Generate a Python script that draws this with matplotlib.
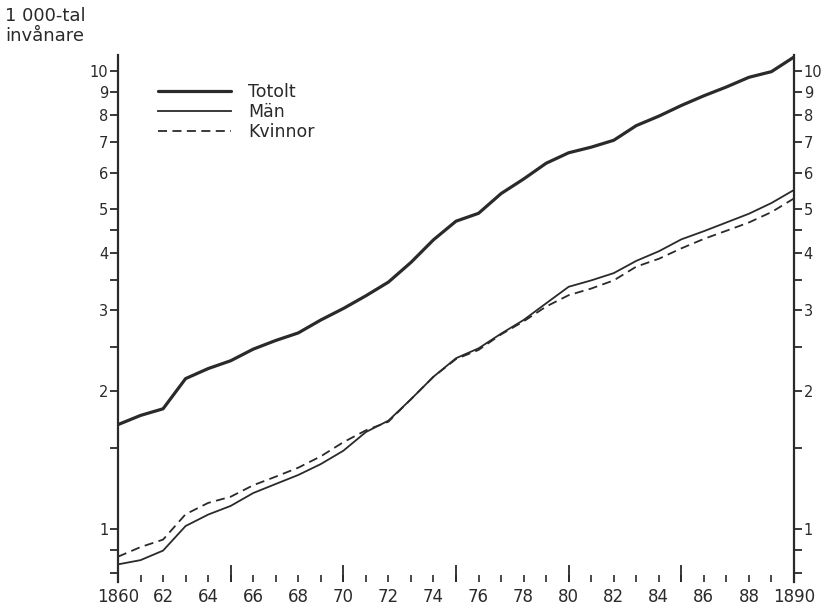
import numpy as np
import matplotlib
matplotlib.use("Agg")
import matplotlib.pyplot as plt
from matplotlib.ticker import FixedLocator, FuncFormatter, NullFormatter

# population in thousands
years = list(range(1860, 1891))
totalt = [1.69, 1.77, 1.83, 2.13, 2.24, 2.33, 2.47, 2.58, 2.68, 2.86,
          3.03, 3.23, 3.46, 3.82, 4.28, 4.70, 4.89, 5.40, 5.81, 6.29,
          6.63, 6.82, 7.06, 7.60, 7.97, 8.41, 8.83, 9.23, 9.69, 9.97, 10.73]
man = [0.837, 0.855, 0.897, 1.015, 1.075, 1.123, 1.198, 1.254, 1.312, 1.386,
       1.482, 1.628, 1.724, 1.92, 2.15, 2.36, 2.48, 2.67, 2.86, 3.11,
       3.38, 3.49, 3.62, 3.85, 4.04, 4.29, 4.47, 4.67, 4.88, 5.15, 5.50]
kvinnor = [0.870, 0.913, 0.948, 1.077, 1.140, 1.176, 1.246, 1.301, 1.361, 1.441,
           1.547, 1.642, 1.715, 1.92, 2.15, 2.35, 2.46, 2.66, 2.84, 3.06,
           3.24, 3.35, 3.49, 3.74, 3.89, 4.10, 4.30, 4.48, 4.67, 4.92, 5.27]

y_major = [1, 2, 3, 4, 5, 6, 7, 8, 9, 10]
y_minor = [0.8, 0.9, 1.5, 2.5, 3.5, 4.5]
long_ticks = [1865, 1870, 1875, 1880, 1885]

ink = "#2a2a2a"

fig = plt.figure(figsize=(8.23, 6.06), dpi=100)
ax = fig.add_axes([118 / 823, 1 - 582 / 606, (794 - 118) / 823, (582 - 55) / 606])

ax.plot(years, totalt, color=ink, lw=2.3, label="Totolt", solid_capstyle="round")
ax.plot(years, man, color=ink, lw=1.3, label="Män")
ax.plot(years, kvinnor, color=ink, lw=1.3, dashes=(5, 3), label="Kvinnor")

ax.set_yscale("log")
ax.set_ylim(0.766, 10.84)
ax.set_xlim(1860, 1890)

for s in ["top", "bottom"]:
    ax.spines[s].set_visible(False)
for s in ["left", "right"]:
    ax.spines[s].set_color(ink)
    ax.spines[s].set_linewidth(1.6)

# y axis, labels on both sides, sitting a little above their tick
ax.yaxis.set_major_locator(FixedLocator(y_major))
ax.yaxis.set_minor_locator(FixedLocator(y_minor))
ax.yaxis.set_major_formatter(FuncFormatter(lambda v, p: "%d" % v))
ax.yaxis.set_minor_formatter(NullFormatter())
ax.tick_params(axis="y", which="both", left=True, right=True, labelleft=True,
               labelright=True, direction="out", length=6, width=1.3,
               color=ink, labelcolor=ink, labelsize=10.5, pad=1)
for t in ax.yaxis.get_major_ticks():
    t.label1.set_va("center_baseline")
    t.label2.set_va("center_baseline")

# x axis: a tick each year, labels on even years, long ticks every 5 years
def year_label(v, p):
    v = int(round(v))
    if v % 2:
        return ""
    if v in (1860, 1890):
        return str(v)
    return "%02d" % (v % 100)

ax.xaxis.remove_overlapping_locs = False
ax.xaxis.set_major_locator(FixedLocator(years))
ax.xaxis.set_major_formatter(FuncFormatter(year_label))
ax.xaxis.set_minor_locator(FixedLocator(long_ticks))
ax.tick_params(axis="x", which="major", direction="in", length=5, width=1.2,
               color=ink, labelcolor=ink, labelsize=12, pad=4)
ax.tick_params(axis="x", which="minor", direction="in", length=12, width=1.3,
               color=ink)

fig.text(0.006, 0.988, "1 000-tal\ninvånare", ha="left", va="top",
         fontsize=13, color=ink, linespacing=1.15)

ax.legend(loc="upper left", bbox_to_anchor=(158 / 823, 1 - 83 / 606),
          bbox_transform=fig.transFigure, frameon=False, fontsize=12.5,
          handlelength=4.2, handletextpad=1.0, labelspacing=0.12,
          borderpad=0, borderaxespad=0, labelcolor=ink)

fig.savefig("out.png", dpi=100, facecolor="white")
